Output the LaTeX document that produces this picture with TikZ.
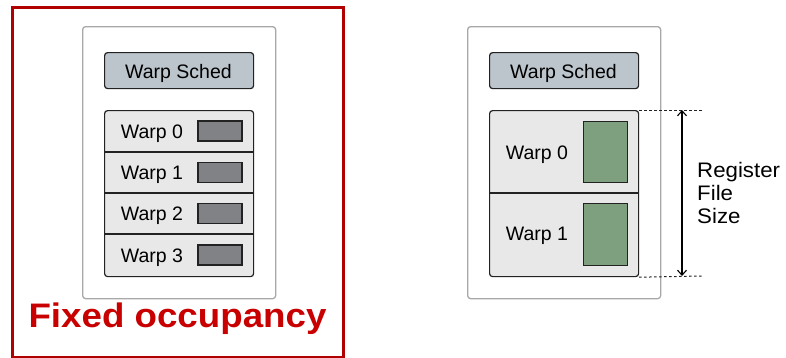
\documentclass[tikz,border=0pt]{standalone}
\usepackage{fontspec}
\setmainfont{Liberation Sans}
\usetikzlibrary{arrows.meta}
\definecolor{schedfill}{HTML}{BCC5CC}
\definecolor{listfill}{HTML}{E8E8E8}
\definecolor{outerline}{HTML}{A8A8A8}
\definecolor{regfill}{HTML}{808285}
\definecolor{greenfill}{HTML}{7FA07F}
\definecolor{darkred}{HTML}{B00000}
\definecolor{txtred}{HTML}{C80000}
\definecolor{inkline}{HTML}{222222}
\tikzset{
  outerbox/.style={draw=outerline, line width=1.3pt, fill=white, rounded corners=3pt, anchor=north west, minimum width=193pt, minimum height=272pt, inner sep=0pt},
  schedbox/.style={draw=inkline, line width=1.2pt, fill=schedfill, rounded corners=3pt, anchor=north west, minimum width=149pt, minimum height=36pt, inner sep=0pt},
  listbox/.style={draw=inkline, line width=1.2pt, fill=listfill, rounded corners=3pt, anchor=north west, minimum width=149pt, minimum height=166pt, inner sep=0pt},
  lbl/.style={font=\fontsize{19.5}{22}\selectfont, inner sep=0pt, anchor=base},
  regbox/.style={draw=inkline, line width=1.2pt, fill=regfill, minimum width=44pt, minimum height=20pt, inner sep=0pt},
  greenbox/.style={draw=inkline, line width=1.2pt, fill=greenfill, anchor=north west, minimum width=44pt, inner sep=0pt},
  divider/.style={draw=inkline, line width=1.2pt},
  dotline/.style={draw=inkline, line width=1pt, dash pattern=on 2.5pt off 2.5pt},
  sidetxt/.style={anchor=base west, inner sep=0pt, font=\fontsize{21}{23}\selectfont, xscale=1.06},
}
\begin{document}
\begin{tikzpicture}[x=1pt,y=-1pt]
\useasboundingbox (0,0) rectangle (786,357);
% ---------- left panel ----------
\node[draw=darkred, line width=3pt, anchor=north west, minimum width=331pt, minimum height=350pt, inner sep=0pt] (frame) at (11,6) {};
\node[outerbox] (outerL) at (82,26) {};
\node[schedbox] (schedL) at (104,52) {};
\node[lbl] (schedLt) at (178.5,78) {Warp Sched};
\node[listbox] (listL) at (104,110) {};
\draw[divider] (104,152) -- (253,152);
\draw[divider] (104,193) -- (253,193);
\draw[divider] (104,234) -- (253,234);
\node[lbl] (w0L) at (152,138.3) {Warp 0};
\node[lbl] (w1L) at (152,179.8) {Warp 1};
\node[lbl] (w2L) at (152,220.8) {Warp 2};
\node[lbl] (w3L) at (152,262) {Warp 3};
\node[regbox] (r0L) at (220,131) {};
\node[regbox] (r1L) at (220,172.5) {};
\node[regbox] (r2L) at (220,213.5) {};
\node[regbox] (r3L) at (220,255) {};
\node[anchor=base, inner sep=0pt, text=txtred, font=\fontsize{34}{38}\bfseries\selectfont, xscale=1.08] (fixed) at (177.5,327) {Fixed occupancy};
% ---------- right panel ----------
\node[outerbox] (outerR) at (467,26) {};
\node[schedbox] (schedR) at (489,52) {};
\node[lbl] (schedRt) at (563.5,78) {Warp Sched};
\node[listbox] (listR) at (489,110) {};
\draw[divider] (489,193) -- (638,193);
\node[lbl] (w0R) at (537,159.3) {Warp 0};
\node[lbl] (w1R) at (537,240.3) {Warp 1};
\node[greenbox, minimum height=61pt] (g0R) at (583,121) {};
\node[greenbox, minimum height=62pt] (g1R) at (583,203) {};
\coordinate (topend) at (702,110);
\coordinate (botend) at (702,276);
\draw[dotline] (listR.north east) -- (topend);
\draw[dotline] (listR.south east) -- (botend);
\coordinate (atop) at (682,110);
\coordinate (abot) at (682,276);
\draw[line width=1.1pt, {Straight Barb[length=5pt,width=9pt]}-{Straight Barb[length=5pt,width=9pt]}] (atop) -- (abot);
\node[sidetxt] (rf) at (697,177) {Register};
\node[sidetxt] (rf2) at (697,200) {File};
\node[sidetxt] (rf3) at (697,223) {Size};
\end{tikzpicture}
\end{document}
